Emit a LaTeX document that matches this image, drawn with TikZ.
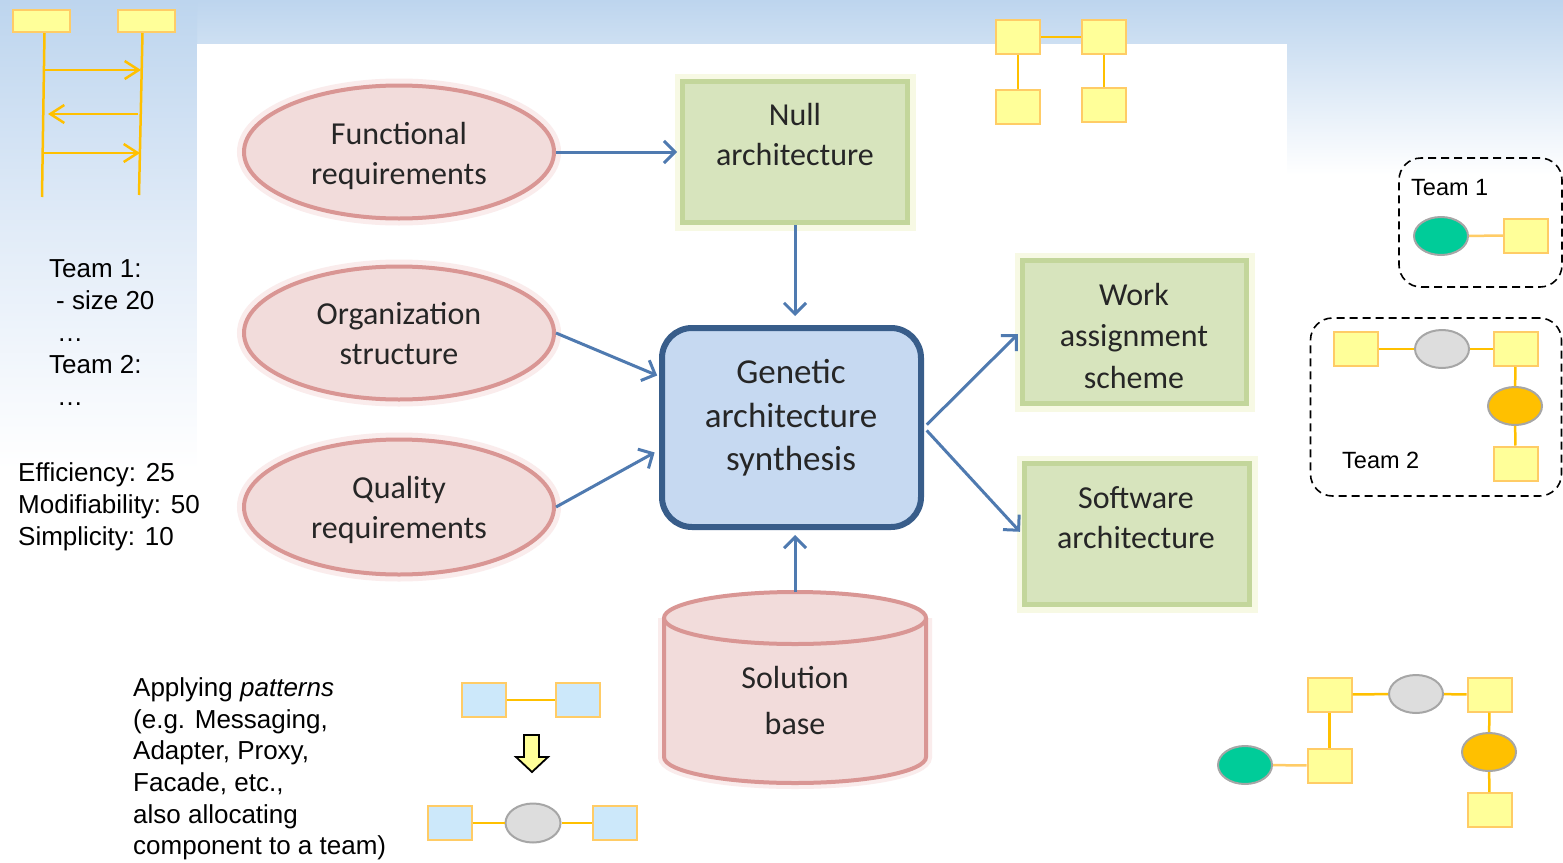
\documentclass[tikz,border=0pt]{standalone}
\usepackage{fontspec}
\setmainfont{Liberation Sans}
\newfontfamily\calfont{Carlito}
\usetikzlibrary{arrows.meta,shapes.geometric,calc}
\definecolor{sky}{RGB}{189,213,238}
\definecolor{skymid}{RGB}{226,236,248}
\definecolor{ylfill}{RGB}{255,255,153}
\definecolor{ylline}{RGB}{255,204,102}
\definecolor{orgc}{RGB}{255,192,0}
\definecolor{grayfill}{RGB}{221,221,221}
\definecolor{grayline}{RGB}{166,166,166}
\definecolor{greenfill}{RGB}{0,204,153}
\definecolor{bluebox}{RGB}{204,232,250}
\definecolor{pinkfill}{RGB}{242,220,219}
\definecolor{pinkline}{RGB}{217,150,148}
\definecolor{pinkglow}{RGB}{250,236,236}
\definecolor{greenbox}{RGB}{215,228,189}
\definecolor{greenline}{RGB}{195,214,155}
\definecolor{greenglow}{RGB}{247,249,228}
\definecolor{genfill}{RGB}{198,217,241}
\definecolor{genline}{RGB}{56,93,138}
\definecolor{arrowcol}{RGB}{79,122,176}
\definecolor{txt}{RGB}{38,38,38}
\tikzset{
  ybox/.style={draw=ylline, fill=ylfill, line width=2pt, minimum width=44pt, minimum height=34pt, inner sep=0pt},
  bbox/.style={ybox, fill=bluebox},
  sell/.style={ellipse, draw=grayline, line width=2pt, minimum width=54pt, minimum height=38pt, inner sep=0pt},
  link/.style={draw=orgc, line width=2.5pt},
  lightlink/.style={draw=ylline, line width=2.5pt},
  seqarr/.style={link, -{Straight Barb[length=14pt,width=18pt]}},
  req/.style={ellipse, draw=pinkline, fill=pinkfill, line width=4pt, minimum width=310pt, minimum height=133pt, inner sep=0pt,
    preaction={draw=pinkglow, line width=14pt}},
  gbox/.style={draw=greenline, fill=greenbox, line width=5pt, minimum width=225pt, minimum height=141pt, inner sep=0pt,
    preaction={draw=greenglow, line width=16pt}},
  lbl/.style={font=\calfont\fontsize{32}{40}\selectfont, text=txt, align=center, inner sep=0pt},
  arr/.style={draw=arrowcol, line width=3pt, -{Straight Barb[length=11pt,width=22pt]}},
  teambox/.style={draw=black, dashed, dash pattern=on 8pt off 5pt, line width=1.6pt, rounded corners=22pt, inner sep=0pt},
  side/.style={anchor=north west, align=left, inner sep=0pt, text=black},
}
\begin{document}
\begin{tikzpicture}[x=1pt,y=-1pt]
\useasboundingbox (0,0) rectangle (1563,862);
% background
\fill[white] (0,0) rectangle (1563,862);
\shade[top color=sky, bottom color=white] (0,0) rectangle (1563,175);
\shade[top color=sky, bottom color=white, middle color=skymid] (0,0) rectangle (197,470);
\fill[white] (197,44) rectangle (1287,862);

% sequence diagram (top left)
\node[ybox, minimum width=57pt, minimum height=22pt] (s1) at (41.5,21) {};
\node[ybox, minimum width=57pt, minimum height=22pt] (s2) at (146.5,21) {};
\coordinate (s1b) at (42,197);
\coordinate (s2b) at (139,195);
\draw[link] ([xshift=3pt]s1.south) -- (s1b);
\draw[link] ([xshift=-4pt]s2.south) -- (s2b);
\coordinate (m1a) at (44,70);  \coordinate (m1b) at (141,70);
\coordinate (m2a) at (138,114); \coordinate (m2b) at (48,114);
\coordinate (m3a) at (43,153); \coordinate (m3b) at (140,153);
\draw[seqarr] (m1a) -- (m1b);
\draw[seqarr] (m2a) -- (m2b);
\draw[seqarr] (m3a) -- (m3b);

% top network
\node[ybox] (n1) at (1018,37) {};
\node[ybox] (n2) at (1104,37) {};
\node[ybox] (n3) at (1018,107) {};
\node[ybox] (n4) at (1104,105) {};
\draw[link] (n1) -- (n2);
\draw[link] (n1) -- (n3);
\draw[link] (n2) -- (n4);

% Team 1 box
\node[teambox, minimum width=163pt, minimum height=129pt] (t1box) at (1480.5,222.5) {};
\node[anchor=west, inner sep=0pt, font=\fontsize{23.5}{28}\selectfont] (t1lbl) at (1411,188) {Team 1};
\node[sell, fill=greenfill] (t1g) at (1441,236) {};
\node[ybox] (t1y) at (1526,235.5) {};
\draw[lightlink] (t1g) -- (t1y);

% Team 2 box
\node[teambox, minimum width=251pt, minimum height=178pt] (t2box) at (1436,407) {};
\node[ybox] (t2a) at (1355.5,349) {};
\node[sell, fill=grayfill] (t2g) at (1442,349) {};
\node[ybox] (t2b) at (1515.5,349) {};
\node[sell, fill=orgc] (t2o) at (1515,406) {};
\node[ybox] (t2c) at (1515.5,463.5) {};
\draw[link] (t2a) -- (t2g);
\draw[link] (t2g) -- (t2b);
\draw[link] (t2b) -- (t2o);
\draw[link] (t2o) -- (t2c);
\node[anchor=west, inner sep=0pt, font=\fontsize{23.5}{28}\selectfont] (t2lbl) at (1342,460) {Team 2};

% bottom right network
\node[ybox] (bA) at (1329.5,694.5) {};
\node[sell, fill=grayfill] (bG) at (1416,694) {};
\node[ybox] (bB) at (1489.5,694.5) {};
\node[sell, fill=orgc] (bO) at (1489,752) {};
\node[ybox] (bC) at (1489.5,810) {};
\node[ybox] (bD) at (1329.5,765.5) {};
\node[sell, fill=greenfill] (bE) at (1245,765) {};
\draw[link] (bA) -- (bG);
\draw[link] (bG) -- (bB);
\draw[link] (bB) -- (bO);
\draw[link] (bO) -- (bC);
\draw[link] (bA) -- (bD);
\draw[lightlink] (bE) -- (bD);

% pattern example (bottom middle)
\node[bbox] (p1) at (483.5,700) {};
\node[bbox] (p2) at (577.5,700) {};
\draw[link] (p1) -- (p2);
\fill[ylfill, draw=black, line width=1.8pt, line join=miter]
  (524,735) -- (539,735) -- (539,757) -- (548,757) -- (532,772) -- (516,757) -- (524,757) -- cycle;
\node[bbox] (q1) at (449.5,823) {};
\node[sell, fill=grayfill, minimum width=55pt, minimum height=39pt] (qg) at (533,823) {};
\node[bbox] (q2) at (614.5,823) {};
\draw[link] (q1) -- (qg);
\draw[link] (qg) -- (q2);

% side texts
\node[side, font=\fontsize{26}{32}\selectfont] (teams) at (49,254.6)
  {\strut Team 1:\\\strut\hspace{7pt}- size 20\\\strut\hspace{8pt}…\\\strut Team 2:\\\strut\hspace{8pt}…};
\node[side, font=\fontsize{26}{32}\selectfont] (qual-text) at (18,458.6)
  {\strut Efficiency: 25\\\strut Modifiability: 50\\\strut Simplicity: 10};
\node[side, font=\fontsize{26}{31.6}\selectfont] (patterns) at (133,674.4)
  {\strut Applying \textit{patterns}\\\strut (e.g. Messaging,\\\strut Adapter, Proxy,\\\strut Facade, etc.,\\\strut also allocating\\\strut component to a team)};

% main diagram
\node[req] (func) at (399,152) {};
\node[lbl] (functxt) at (399,156) {\strut Functional\\\strut requirements};
\node[req] (orgn) at (399,333) {};
\node[lbl] (orgntxt) at (399,336) {\strut Organization\\\strut structure};
\node[req, minimum height=135pt] (qual) at (399,507) {};
\node[lbl] (qualtxt) at (399,510) {\strut Quality\\\strut requirements};

\node[gbox] (null) at (795,152) {};
\node[lbl] (nulltxt) at (795,137) {\strut Null\\\strut architecture};

\node[draw=genline, fill=genfill, line width=6pt, rounded corners=30pt, minimum width=259pt, minimum height=199pt, inner sep=0pt] (gen) at (791.5,427.5) {};
\node[lbl, font=\calfont\fontsize{35}{43.5}\selectfont] (gentxt) at (791,418.5) {\strut Genetic\\\strut architecture\\\strut synthesis};

\node[gbox, minimum width=224pt, minimum height=143pt] (work) at (1134.5,332) {};
\node[lbl, font=\calfont\fontsize{32}{41.5}\selectfont] (worktxt) at (1134,338.5) {\strut Work\\\strut assignment\\\strut scheme};

\node[gbox] (soft) at (1137,534) {};
\node[lbl] (softtxt) at (1136,520) {\strut Software\\\strut architecture};

% solution base cylinder
\filldraw[draw=pinkline, fill=pinkfill, line width=4pt, preaction={draw=pinkglow, line width=12pt}]
  (664,618) -- (664,757) arc[start angle=180, end angle=360, x radius=131pt, y radius=26pt] -- (926,618);
\filldraw[draw=pinkline, fill=pinkfill, line width=4pt] (795,618) ellipse[x radius=131pt, y radius=26pt];
\node[lbl, font=\calfont\fontsize{32}{46}\selectfont] (soltxt) at (795,702) {\strut Solution\\\strut base};
\coordinate (soltop) at (795,592);

% arrows
\draw[arr, shorten >=3pt] (func.east) -- (null.west);
\draw[arr, shorten >=9pt] (null.south) -- (null.south |- gen.north);
\draw[arr, shorten >=2pt] (orgn.east) -- ($(gen.north west)!0.25!(gen.south west)$);
\draw[arr, shorten >=5pt] (qual.east) -- ($(gen.north west)!0.61!(gen.south west)$);
\draw[arr, shorten <=4pt, shorten >=3pt] (gen.east) -- (work.west);
\draw[arr, shorten <=4pt, shorten >=3pt] (gen.east) -- (soft.west);
\draw[arr, shorten >=5pt] (soltop) -- (soltop |- gen.south);
\end{tikzpicture}
\end{document}
